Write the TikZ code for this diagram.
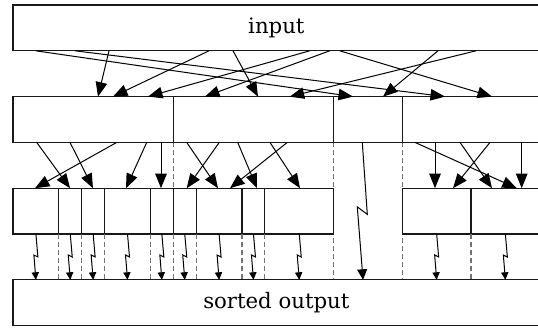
\documentclass[tikz,border=0pt]{standalone}
\usepackage{fontspec}
\setmainfont{DejaVu Serif}
\usetikzlibrary{arrows.meta}

% width of the smallest bucket
\newcommand{\cellw}{9.16pt}

\tikzset{
  bucket/.style={draw=black!90, line width=0.45pt, rectangle, inner sep=0pt, outer sep=0pt,
    anchor=north west, minimum height=2*\cellw, font=\fontsize{8.5pt}{10pt}\selectfont},
  dist/.style={-{Triangle[length=5.8pt,width=4.6pt]}, line width=0.4pt},
  recur/.style={-{Triangle[length=3pt,width=2.9pt]}, line width=0.4pt},
  bigrecur/.style={-{Triangle[length=4.2pt,width=4pt]}, line width=0.4pt},
  border/.style={draw=black!55, dash pattern=on 2pt off 1.2pt, line width=0.45pt},
}

\begin{document}
\begin{tikzpicture}[x=0.4pt,y=0.4pt,yscale=-1,xscale=1]
\path[use as bounding box] (0,0) rectangle (538,327);

% Bucket borders
\draw[border] (173.3,142.4) coordinate (d1) -- (173.3,188.2) coordinate (d1e);
\draw[border] (333.6,142.4) coordinate (d2) -- (333.6,279.8) coordinate (d2e);
\draw[border] (402.3,142.4) coordinate (d3) -- (402.3,279.8) coordinate (d3e);

% Input
\node[bucket, minimum width=23*\cellw] (in) at (13,5) {input};

% Buckets
\node[bucket, minimum width=7*\cellw] (b1) at (13,96.6) {};
\node[bucket, minimum width=7*\cellw] (b2) at (173.3,96.6) {};
\node[bucket, minimum width=3*\cellw] (b3) at (333.6,96.6) {};
\node[bucket, minimum width=6*\cellw] (b4) at (402.3,96.6) {};

% Sub-buckets
\node[bucket, minimum width=2*\cellw] (c1) at (13,188.2) {};
\node[bucket, minimum width=\cellw] (c2) at (58.8,188.2) {};
\node[bucket, minimum width=\cellw] (c3) at (81.7,188.2) {};
\node[bucket, minimum width=2*\cellw] (c4) at (104.6,188.2) {};
\node[bucket, minimum width=\cellw] (c5) at (150.4,188.2) {};
\node[bucket, minimum width=\cellw] (c6) at (173.3,188.2) {};
\node[bucket, minimum width=2*\cellw] (c7) at (196.2,188.2) {};
\node[bucket, minimum width=\cellw] (c8) at (242,188.2) {};
\node[bucket, minimum width=3*\cellw] (c9) at (264.9,188.2) {};
\node[bucket, minimum width=3*\cellw] (c10) at (402.3,188.2) {};
\node[bucket, minimum width=3*\cellw] (c11) at (471,188.2) {};

% Output
\node[bucket, minimum width=23*\cellw] (out) at (13,279.8) {sorted output};

% Sub-bucket borders
\draw[border] (c2.south west) -- (c2.south west |- out.north);
\draw[border] (c3.south west) -- (c3.south west |- out.north);
\draw[border] (c4.south west) -- (c4.south west |- out.north);
\draw[border] (c5.south west) -- (c5.south west |- out.north);
\draw[border] (c6.south west) -- (c6.south west |- out.north);
\draw[border] (c7.south west) -- (c7.south west |- out.north);
\draw[border] (c8.south west) -- (c8.south west |- out.north);
\draw[border] (c9.south west) -- (c9.south west |- out.north);
\draw[border] (c11.south west) -- (c11.south west |- out.north);

% Input -> buckets
\draw[dist] (35.7,0 |- in.south) -- (353,0 |- b3.north);
\draw[dist] (75,0 |- in.south) -- (445,0 |- b4.north);
\draw[dist] (109,0 |- in.south) -- (98,0 |- b1.north);
\draw[dist] (209,0 |- in.south) -- (113,0 |- b1.north);
\draw[dist] (233,0 |- in.south) -- (258,0 |- b2.north);
\draw[dist] (309.7,0 |- in.south) -- (148,0 |- b1.north);
\draw[dist] (329.7,0 |- in.south) -- (205,0 |- b2.north);
\draw[dist] (339.7,0 |- in.south) -- (492,0 |- b4.north);
\draw[dist] (438,0 |- in.south) -- (383,0 |- b3.north);
\draw[dist] (476,0 |- in.south) -- (289.7,0 |- b2.north);

% Buckets -> sub-buckets
\draw[dist] (36.7,0 |- b1.south) -- (70,0 |- c2.north);
\draw[dist] (70,0 |- b1.south) -- (93,0 |- c3.north);
\draw[dist] (116.7,0 |- b1.south) -- (35,0 |- c1.north);
\draw[dist] (146.7,0 |- b1.south) -- (126,0 |- c4.north);
\draw[dist] (161,0 |- b1.south) -- (161,0 |- c5.north);
\draw[dist] (186.7,0 |- b2.south) -- (218,0 |- c7.north);
\draw[dist] (219.3,0 |- b2.south) -- (186.7,0 |- c6.north);
\draw[dist] (237.7,0 |- b2.south) -- (257,0 |- c8.north);
\draw[dist] (270,0 |- b2.south) -- (300,0 |- c9.north);
\draw[dist] (287.3,0 |- b2.south) -- (230,0 |- c7.north);
\draw[dist] (415,0 |- b4.south) -- (516.7,0 |- c11.north);
\draw[dist] (435,0 |- b4.south) -- (435,0 |- c10.north);
\draw[dist] (460,0 |- b4.south) -- (492,0 |- c11.north);
\draw[dist] (490,0 |- b4.south) -- (453,0 |- c10.north);
\draw[dist] (521.7,0 |- b4.south) -- (521.7,0 |- c11.north);

% Recursive sorting
\draw[bigrecur] (362.3,0 |- b3.south) -- ++(5,72) -- ++(-10,-7.5) -- (363,0 |- out.north);
\draw[recur] (c1.south) -- ++(2,23) -- ++(-4,-2) -- (c1.south |- out.north);
\draw[recur] (c2.south) -- ++(2,23) -- ++(-4,-2) -- (c2.south |- out.north);
\draw[recur] (c3.south) -- ++(2,23) -- ++(-4,-2) -- (c3.south |- out.north);
\draw[recur] (c4.south) -- ++(2,23) -- ++(-4,-2) -- (c4.south |- out.north);
\draw[recur] (c5.south) -- ++(2,23) -- ++(-4,-2) -- (c5.south |- out.north);
\draw[recur] (c6.south) -- ++(2,23) -- ++(-4,-2) -- (c6.south |- out.north);
\draw[recur] (c7.south) -- ++(2,23) -- ++(-4,-2) -- (c7.south |- out.north);
\draw[recur] (c8.south) -- ++(2,23) -- ++(-4,-2) -- (c8.south |- out.north);
\draw[recur] (c9.south) -- ++(2,23) -- ++(-4,-2) -- (c9.south |- out.north);
\draw[recur] (c10.south) -- ++(2,23) -- ++(-4,-2) -- (c10.south |- out.north);
\draw[recur] (c11.south) -- ++(2,23) -- ++(-4,-2) -- (c11.south |- out.north);
\end{tikzpicture}
\end{document}
